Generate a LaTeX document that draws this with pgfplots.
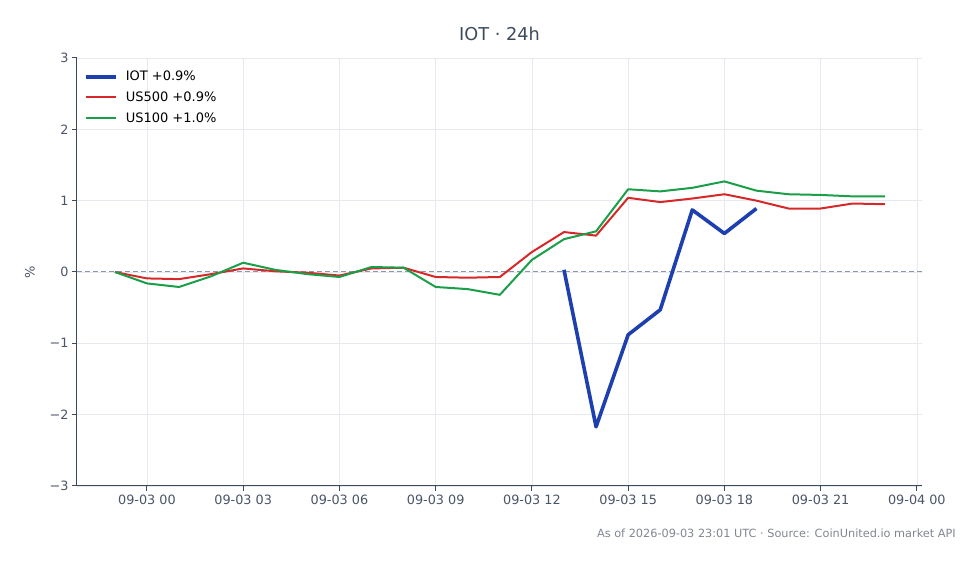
\documentclass[border=0pt]{standalone}
\usepackage{pgfplots}
\pgfplotsset{compat=1.18}
\usepackage{fontspec}
\setmainfont{DejaVu Sans}

\definecolor{iotblue}{RGB}{30,64,175}
\definecolor{usred}{RGB}{214,40,40}
\definecolor{usgreen}{RGB}{26,158,72}
\definecolor{spine}{RGB}{61,74,92}
\definecolor{ticktxt}{RGB}{74,85,104}
\definecolor{gridc}{RGB}{230,233,238}
\definecolor{zeroc}{RGB}{140,150,180}
\definecolor{foot}{RGB}{128,134,145}

% hours relative to 09-03 00:00 UTC, % change
\pgfplotstableread{
h    v
-1   0.00
0   -0.09
1   -0.10
2   -0.03
3    0.05
4    0.01
5   -0.01
6   -0.05
7    0.05
8    0.06
9   -0.07
10  -0.08
11  -0.07
12   0.28
13   0.56
14   0.51
15   1.04
16   0.98
17   1.03
18   1.09
19   1.00
20   0.89
21   0.89
22   0.96
23   0.95
}\usfive
\pgfplotstableread{
h    v
-1   0.00
0   -0.16
1   -0.21
2   -0.06
3    0.13
4    0.03
5   -0.03
6   -0.07
7    0.07
8    0.06
9   -0.21
10  -0.24
11  -0.32
12   0.17
13   0.46
14   0.57
15   1.16
16   1.13
17   1.18
18   1.27
19   1.14
20   1.09
21   1.08
22   1.06
23   1.06
}\usone
\pgfplotstableread{
h    v
13   0.03
14  -2.17
15  -0.88
16  -0.53
17   0.87
18   0.54
19   0.89
}\iot

\begin{document}
\begin{tikzpicture}[x=1pt,y=1pt]
\path[use as bounding box] (-77,-78) rectangle (903,486);
\begin{axis}[
    at={(0,0)}, anchor=south west,
    scale only axis,
    width=845pt, height=428pt,
    xmin=-2.18, xmax=24.16,
    ymin=-3, ymax=3,
    axis lines*=left,
    axis line style={spine, line width=1pt},
    every axis plot/.append style={line join=round},
    xtick={0,3,...,24},
    xticklabels={09-03 00,09-03 03,09-03 06,09-03 09,09-03 12,09-03 15,09-03 18,09-03 21,09-04 00},
    ytick={-3,-2,...,3},
    yticklabels={−3,−2,−1,0,1,2,3},
    tick align=outside,
    major tick length=5pt,
    tick style={spine, line width=1pt},
    grid=major,
    grid style={gridc, line width=0.6pt},
    ticklabel style={font=\fontsize{12.8}{15}\selectfont, text=ticktxt},
    /pgf/number format/assume math mode=true,
    ylabel={\%},
    ylabel style={font=\fontsize{13}{15}\selectfont, text=ticktxt, yshift=8pt},
    title={IOT · 24h},
    title style={font=\fontsize{17.7}{20}\selectfont, text=spine, yshift=8pt},
    legend style={at={(rel axis cs:0,1)}, anchor=north west, xshift=4pt, yshift=-9pt,
        draw=none, fill=none, font=\fontsize{13}{15}\selectfont,
        row sep=5.5pt, cells={anchor=west, inner xsep=8pt}},
    legend image code/.code={\draw[#1] (-3pt,0pt) -- (27pt,0pt);},
    clip=false,
]
\addplot[zeroc, dash pattern=on 5pt off 3pt, line width=1pt, forget plot] coordinates {(-2.18,0) (24.16,0)};
\addplot[iotblue, line width=3.6pt] table[x=h,y=v] {\iot};
\addlegendentry{\hspace*{6pt}IOT +0.9\%}
\addplot[usred, line width=2pt] table[x=h,y=v] {\usfive};
\addlegendentry{\hspace*{6pt}US500 +0.9\%}
\addplot[usgreen, line width=2pt] table[x=h,y=v] {\usone};
\addlegendentry{\hspace*{6pt}US100 +1.0\%}
\end{axis}
\node[anchor=base east, font=\fontsize{11.3}{13}\selectfont, text=foot, inner xsep=0pt] at (879,-52) {As of 2026-09-03 23:01 UTC · Source: CoinUnited.io market API};
\end{tikzpicture}
\end{document}
